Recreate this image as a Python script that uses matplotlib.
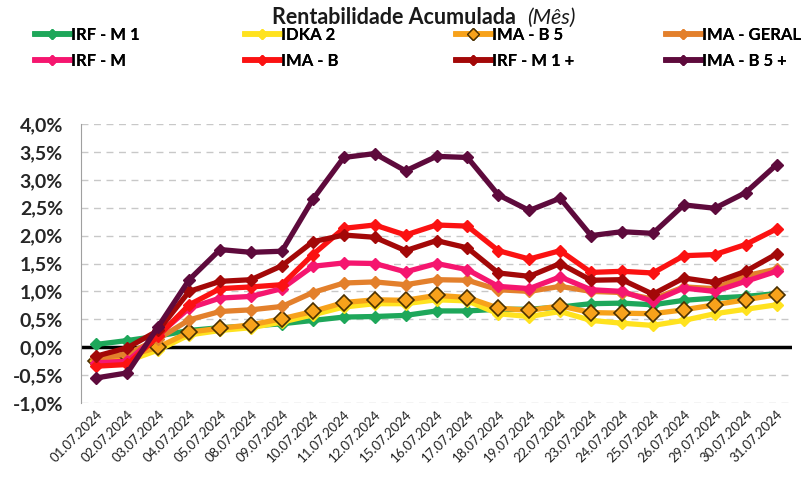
import numpy as np
import matplotlib
matplotlib.use("Agg")
import matplotlib.pyplot as plt
from matplotlib.ticker import FuncFormatter, MultipleLocator
from matplotlib.lines import Line2D

plt.rcParams['font.family'] = ['Lato', 'DejaVu Sans']

# ---- data (% accumulated in the month) ---------------------------------
dates = ["01.07.2024", "02.07.2024", "03.07.2024", "04.07.2024", "05.07.2024",
         "08.07.2024", "09.07.2024", "10.07.2024", "11.07.2024", "12.07.2024",
         "15.07.2024", "16.07.2024", "17.07.2024", "18.07.2024", "19.07.2024",
         "22.07.2024", "23.07.2024", "24.07.2024", "25.07.2024", "26.07.2024",
         "29.07.2024", "30.07.2024", "31.07.2024"]

irf_m1 = [0.05, 0.12, 0.20, 0.30, 0.35, 0.38, 0.42, 0.48, 0.54, 0.55, 0.57, 0.65,
          0.65, 0.68, 0.68, 0.72, 0.78, 0.79, 0.76, 0.84, 0.88, 0.91, 0.96]
idka2 = [-0.30, -0.25, -0.05, 0.22, 0.30, 0.35, 0.45, 0.58, 0.72, 0.78, 0.78, 0.85,
         0.83, 0.60, 0.55, 0.64, 0.48, 0.43, 0.39, 0.48, 0.60, 0.68, 0.76]
ima_b5 = [-0.25, -0.16, 0.00, 0.27, 0.34, 0.40, 0.51, 0.64, 0.80, 0.85, 0.84, 0.93,
          0.89, 0.70, 0.66, 0.74, 0.62, 0.61, 0.60, 0.67, 0.76, 0.85, 0.94]
ima_geral = [-0.20, -0.12, 0.15, 0.49, 0.64, 0.67, 0.73, 0.98, 1.15, 1.17, 1.12, 1.21,
             1.20, 1.03, 1.00, 1.09, 1.00, 0.98, 0.86, 1.08, 1.05, 1.28, 1.40]
irf_m = [-0.28, -0.25, 0.22, 0.70, 0.88, 0.91, 1.05, 1.45, 1.51, 1.50, 1.35, 1.50,
         1.39, 1.09, 1.05, 1.26, 1.03, 1.00, 0.82, 1.06, 1.00, 1.18, 1.36]
ima_b = [-0.34, -0.31, 0.20, 0.76, 1.05, 1.08, 1.12, 1.66, 2.13, 2.19, 2.01, 2.19,
         2.17, 1.73, 1.58, 1.73, 1.34, 1.36, 1.33, 1.64, 1.66, 1.84, 2.12]
irf_m1_plus = [-0.16, -0.01, 0.30, 1.00, 1.18, 1.21, 1.46, 1.89, 2.01, 1.97, 1.73, 1.91,
               1.78, 1.33, 1.27, 1.50, 1.20, 1.21, 0.95, 1.24, 1.16, 1.36, 1.67]
ima_b5_plus = [-0.55, -0.46, 0.37, 1.21, 1.75, 1.70, 1.72, 2.65, 3.40, 3.47, 3.16, 3.42,
               3.40, 2.73, 2.45, 2.67, 2.00, 2.07, 2.04, 2.55, 2.49, 2.77, 3.27]

labels = ["IRF - M 1", "IDKA 2", "IMA - B 5", "IMA - GERAL",
          "IRF - M", "IMA - B", "IRF - M 1 +", "IMA - B 5 +"]
series = [irf_m1, idka2, ima_b5, ima_geral, irf_m, ima_b, irf_m1_plus, ima_b5_plus]
colors = ["#1ea75a", "#ffe21f", "#f7a21b", "#e3802c",
          "#f5166f", "#fb1212", "#a30808", "#5e0a3c"]

# ---- figure -----------------------------------------------------------
fig = plt.figure(figsize=(8.02, 4.78), dpi=100)
ax = fig.add_axes([81 / 802, 1 - 403 / 478, 711 / 802, 279 / 478])

x = np.arange(len(dates))
handles = []
for i, (lab, vals, col) in enumerate(zip(labels, series, colors)):
    if lab == "IMA - B 5":
        mk = dict(marker="D", markersize=8, markerfacecolor=col,
                  markeredgecolor="#4a3000", markeredgewidth=1.2)
    else:
        mk = dict(marker="D", markersize=6.5, markerfacecolor=col, markeredgecolor=col)
    ax.plot(x, vals, color=col, lw=3.8, zorder=3 + i, solid_joinstyle="miter", **mk)
    handles.append(Line2D([], [], color=col, lw=4,
                          marker="D", markersize=5 if lab != "IMA - B 5" else 6,
                          markerfacecolor=col,
                          markeredgecolor="#4a3000" if lab == "IMA - B 5" else col))

ax.axhline(0, color="black", lw=2.5, zorder=2)
ax.set_xlim(-0.5, len(dates) - 0.5)
ax.set_ylim(-1.0, 4.0)
ax.yaxis.set_major_locator(MultipleLocator(0.5))
ax.yaxis.set_major_formatter(FuncFormatter(lambda v, p: f"{v:.1f}%".replace(".", ",")))
ax.grid(axis="y", color="#c8c8c8", ls=(0, (5, 4)), lw=1)
ax.set_axisbelow(True)

for s in ["top", "right", "bottom"]:
    ax.spines[s].set_visible(False)
ax.spines["left"].set_color("#a0a0a0")
ax.tick_params(axis="y", length=0, pad=13, labelsize=14, labelcolor="#262626")
for t in ax.get_yticklabels():
    t.set_fontweight("bold")
ax.set_xticks(x)
ax.set_xticklabels(dates, rotation=45, ha="right", va="top", rotation_mode="anchor",
                   fontsize=9.5, color="#1f1f1f")
ax.tick_params(axis="x", length=0, pad=4)

# ---- title ------------------------------------------------------------
t = fig.text(272 / 802, 1 - 17 / 478, "Rentabilidade Acumulada", fontsize=15.5,
             fontweight="bold", ha="left", va="center", color="#1a1a1a")
ax.annotate("(Mês)", xy=(1, 0), xycoords=t, xytext=(8, 0), textcoords="offset points",
            fontsize=15.5, fontstyle="italic", color="#1a1a1a", va="bottom")

# ---- legend: one column per group, evenly spaced ------------------------
col_x = [28, 238, 449, 659]
for c in range(4):
    leg = fig.legend([handles[c], handles[c + 4]], [labels[c], labels[c + 4]],
                     loc="upper left", bbox_to_anchor=(col_x[c] / 802, 1 - 20 / 478),
                     frameon=False, ncol=1, handlelength=2.1, handletextpad=0.1,
                     labelspacing=0.62, borderaxespad=0,
                     prop=dict(weight="bold", size=12))
    fig.add_artist(leg)

fig.savefig("out.png", dpi=100)
